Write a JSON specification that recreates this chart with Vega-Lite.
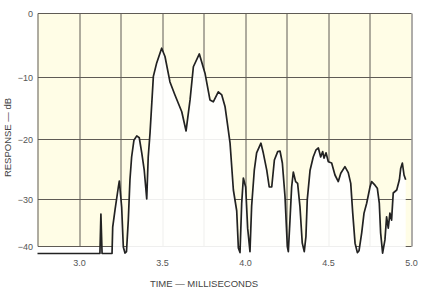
{
  "$schema": "https://vega.github.io/schema/vega-lite/v6.json",
  "width": 373.5,
  "height": 233,
  "autosize": {"type": "none"},
  "padding": {"left": 37.5, "top": 13, "right": 15, "bottom": 46},
  "background": "#ffffff",
  "view": {"fill": "#fffde6", "stroke": null},
  "config": {
    "font": "Liberation Sans",
    "axis": {
      "zindex": 1,
      "grid": true,
      "gridColor": "#5f5b55",
      "gridWidth": 1,
      "gridOpacity": 1,
      "domain": false,
      "ticks": false,
      "labelColor": "#555555",
      "labelFontSize": 9,
      "titleColor": "#444444",
      "titleFontWeight": "normal",
      "titleFontSize": 9.5
    }
  },
  "data": {
    "values": [
      {"t": 2.75, "db": -41.6},
      {"t": 3.126, "db": -41.6},
      {"t": 3.132, "db": -33.2},
      {"t": 3.139, "db": -41.6},
      {"t": 3.199, "db": -41.6},
      {"t": 3.203, "db": -36},
      {"t": 3.217, "db": -32.3},
      {"t": 3.237, "db": -28},
      {"t": 3.243, "db": -27},
      {"t": 3.257, "db": -31.7},
      {"t": 3.267, "db": -40.2},
      {"t": 3.277, "db": -41.5},
      {"t": 3.286, "db": -41.2},
      {"t": 3.297, "db": -34.5},
      {"t": 3.307, "db": -26.8},
      {"t": 3.317, "db": -23},
      {"t": 3.331, "db": -20.2},
      {"t": 3.348, "db": -19.5},
      {"t": 3.363, "db": -19.8},
      {"t": 3.378, "db": -22.3},
      {"t": 3.393, "db": -25.2},
      {"t": 3.408, "db": -30},
      {"t": 3.417, "db": -23},
      {"t": 3.428, "db": -19},
      {"t": 3.448, "db": -9.9},
      {"t": 3.468, "db": -7.8},
      {"t": 3.498, "db": -5.5},
      {"t": 3.518, "db": -6.8},
      {"t": 3.548, "db": -10.8},
      {"t": 3.578, "db": -12.9},
      {"t": 3.619, "db": -15.6},
      {"t": 3.645, "db": -18.7},
      {"t": 3.669, "db": -13.7},
      {"t": 3.689, "db": -8.4},
      {"t": 3.725, "db": -6.4},
      {"t": 3.759, "db": -9.4},
      {"t": 3.789, "db": -13.7},
      {"t": 3.809, "db": -14},
      {"t": 3.839, "db": -12.4},
      {"t": 3.86, "db": -12.9},
      {"t": 3.88, "db": -14.8},
      {"t": 3.899, "db": -18.5},
      {"t": 3.91, "db": -20.7},
      {"t": 3.93, "db": -28.5},
      {"t": 3.95, "db": -32.5},
      {"t": 3.96, "db": -40.4},
      {"t": 3.97, "db": -41.4},
      {"t": 3.98, "db": -31},
      {"t": 3.99, "db": -26.5},
      {"t": 4.004, "db": -28},
      {"t": 4.016, "db": -36.2},
      {"t": 4.03, "db": -41.2},
      {"t": 4.04, "db": -31.5},
      {"t": 4.056, "db": -25.2},
      {"t": 4.07, "db": -22.3},
      {"t": 4.096, "db": -20.7},
      {"t": 4.11, "db": -22.3},
      {"t": 4.131, "db": -25.2},
      {"t": 4.146, "db": -28},
      {"t": 4.161, "db": -28},
      {"t": 4.177, "db": -23.5},
      {"t": 4.197, "db": -22.1},
      {"t": 4.211, "db": -22},
      {"t": 4.225, "db": -24},
      {"t": 4.241, "db": -29.6},
      {"t": 4.255, "db": -40.1},
      {"t": 4.261, "db": -41.2},
      {"t": 4.271, "db": -34.5},
      {"t": 4.281, "db": -28},
      {"t": 4.291, "db": -25.5},
      {"t": 4.305, "db": -27.1},
      {"t": 4.317, "db": -27.4},
      {"t": 4.331, "db": -31.6},
      {"t": 4.345, "db": -39.4},
      {"t": 4.357, "db": -41.2},
      {"t": 4.367, "db": -38},
      {"t": 4.375, "db": -30.2},
      {"t": 4.392, "db": -25.2},
      {"t": 4.411, "db": -23},
      {"t": 4.428, "db": -21.8},
      {"t": 4.442, "db": -21.5},
      {"t": 4.456, "db": -23},
      {"t": 4.468, "db": -22.1},
      {"t": 4.476, "db": -23.2},
      {"t": 4.488, "db": -22.3},
      {"t": 4.502, "db": -23.8},
      {"t": 4.522, "db": -24},
      {"t": 4.542, "db": -26},
      {"t": 4.562, "db": -27.1},
      {"t": 4.577, "db": -25.7},
      {"t": 4.602, "db": -24.6},
      {"t": 4.622, "db": -25.6},
      {"t": 4.637, "db": -27.4},
      {"t": 4.649, "db": -33},
      {"t": 4.663, "db": -39.4},
      {"t": 4.677, "db": -41.4},
      {"t": 4.687, "db": -41},
      {"t": 4.703, "db": -37.2},
      {"t": 4.717, "db": -33},
      {"t": 4.733, "db": -30.9},
      {"t": 4.753, "db": -28},
      {"t": 4.763, "db": -27.1},
      {"t": 4.783, "db": -27.7},
      {"t": 4.797, "db": -28.2},
      {"t": 4.809, "db": -30.9},
      {"t": 4.817, "db": -37.2},
      {"t": 4.829, "db": -41.5},
      {"t": 4.843, "db": -38.7},
      {"t": 4.853, "db": -33.8},
      {"t": 4.863, "db": -36.2},
      {"t": 4.873, "db": -33},
      {"t": 4.883, "db": -34.5},
      {"t": 4.893, "db": -29},
      {"t": 4.914, "db": -28.5},
      {"t": 4.93, "db": -26.8},
      {"t": 4.938, "db": -24.9},
      {"t": 4.948, "db": -24},
      {"t": 4.958, "db": -26},
      {"t": 4.968, "db": -26.8}
    ]
  },
  "encoding": {
    "x": {
      "field": "t",
      "type": "quantitative",
      "scale": {"domain": [2.75, 5.0], "nice": false, "zero": false},
      "axis": {
        "values": [2.75, 3, 3.25, 3.5, 3.75, 4, 4.25, 4.5, 4.75, 5],
        "labelExpr": "(datum.value * 2) % 1 == 0 ? format(datum.value, '.1f') : ''",
        "labelPadding": 12,
        "labelFlush": false,
        "title": "TIME — MILLISECONDS",
        "titleX": 166,
        "titleY": 37,
        "titleBaseline": "middle"
      }
    },
    "y": {
      "field": "db",
      "type": "quantitative",
      "scale": {
        "domain": [0, -10, -20, -30, -40],
        "range": [0, 64, 126, 186, 233],
        "nice": false,
        "zero": false,
        "clamp": false
      },
      "axis": {
        "values": [0, -10, -20, -30, -40],
        "labelPadding": 5,
        "title": "RESPONSE — dB",
        "titleX": -30,
        "titleY": 124,
        "titleBaseline": "middle",
        "titleAngle": -90
      }
    }
  },
  "layer": [
    {
      "mark": {"type": "area", "fill": "#ffffff", "opacity": 0.9},
      "encoding": {"y2": {"datum": -41.6}}
    },
    {
      "mark": {"type": "line", "color": "#222222", "strokeWidth": 1.7, "strokeJoin": "round"}
    }
  ]
}
